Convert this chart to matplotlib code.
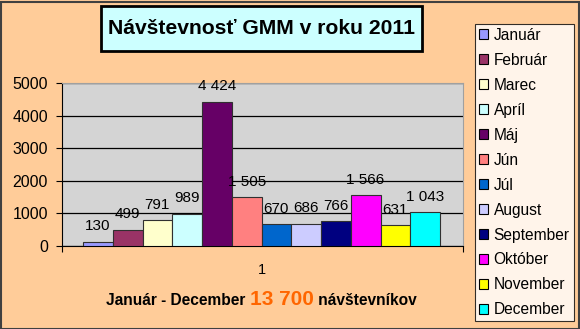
import matplotlib.pyplot as plt
from matplotlib.patches import Rectangle, Patch

plt.rcParams['font.family'] = ['Liberation Sans', 'DejaVu Sans']

# Dáta
mesiace = ['Január', 'Február', 'Marec', 'Apríl', 'Máj', 'Jún', 'Júl',
           'August', 'September', 'Október', 'November', 'December']
navstevy = [130, 499, 791, 989, 4424, 1505, 670, 686, 766, 1566, 631, 1043]
farby = ['#9999FF', '#993366', '#FFFFCC', '#CCFFFF', '#660066', '#FF8080',
         '#0066CC', '#CCCCFF', '#000080', '#FF00FF', '#FFFF00', '#00FFFF']
y_ticky = [0, 1000, 2000, 3000, 4000, 5000]
spolu = '13 700'

W, H = 580, 329
fig = plt.figure(figsize=(W / 100, H / 100), dpi=100)
fig.patch.set_facecolor('#FFCC99')

# Okraj obrázku
fig.patches.append(Rectangle((0.5 / W, 0.5 / H), 1 - 2 / W, 1 - 2 / H,
                             transform=fig.transFigure, fill=False,
                             edgecolor='#404040', linewidth=1.5))

# Plocha grafu (pixely: x 62..463, y 83..246)
ax = fig.add_axes([62 / W, (H - 246) / H, (463 - 62) / W, (246 - 83) / H])
ax.set_facecolor('#D4D4D4')

n = len(navstevy)
pozicie = [i - (n - 1) / 2 for i in range(n)]
ax.bar(pozicie, navstevy, width=1.0, color=farby, edgecolor='#303030',
       linewidth=0.8, zorder=3)

def formatuj(v):
    return f'{v:,}'.replace(',', ' ')

for x, v in zip(pozicie, navstevy):
    ax.annotate(formatuj(v), (x, v), xytext=(0, 6), textcoords='offset points',
                ha='center', va='bottom', fontsize=11, zorder=4)

ax.set_ylim(0, 5000)
lavy = -n / 2 - 21 / 29.75
pravy = n / 2 + 23 / 29.75
ax.set_xlim(lavy, pravy)
ax.set_yticks(y_ticky)
ax.yaxis.grid(True, color='black', linewidth=0.9, zorder=1)
ax.tick_params(axis='y', labelsize=11.5, length=4, width=0.8, pad=6)
ax.set_xticks([lavy, pravy])
ax.set_xticklabels(['', ''])
ax.set_xticks([0], minor=True)
ax.set_xticklabels(['1'], minor=True)
ax.tick_params(axis='x', which='major', length=4, width=0.8)
ax.tick_params(axis='x', which='minor', length=0, labelsize=10.5, pad=12)
for s in ['top', 'right']:
    ax.spines[s].set_color('#A0A0A0')
for s in ['left', 'bottom']:
    ax.spines[s].set_color('black')

# Nadpis v rámčeku
fig.patches.append(Rectangle((101 / W, (H - 51) / H), (422 - 101) / W, 45 / H,
                             transform=fig.transFigure, facecolor='#CCFFFF',
                             edgecolor='black', linewidth=2))
fig.text(261.5 / W, (H - 29) / H, 'Návštevnosť GMM v roku 2011', ha='center',
         va='center', fontsize=15.2, fontweight='bold')

# Legenda
handles = [Patch(facecolor=c, edgecolor='black', linewidth=0.8) for c in farby]
leg = fig.legend(handles, mesiace, loc='upper left',
                 bbox_to_anchor=(475 / W, (H - 24) / H), fontsize=11.2,
                 frameon=True, fancybox=False, edgecolor='black',
                 handlelength=0.6, handleheight=0.6, handletextpad=0.35,
                 labelspacing=0.64, borderpad=0.25, borderaxespad=0)
leg.get_frame().set_linewidth(0.8)
leg.get_frame().set_facecolor('white')

# Spodný text
fig.canvas.draw()
r = fig.canvas.get_renderer()
y_txt = (H - 305) / H
casti = [('Január - December ', 11.2, 'black'), (spolu, 15, '#FF6600'),
         (' návštevníkov', 11.2, 'black')]
texty = [fig.text(0, y_txt, t, fontsize=fs, fontweight='bold', color=c,
                  va='baseline') for t, fs, c in casti]
sirky = [t.get_window_extent(r).width for t in texty]
x0 = 261.5 - sum(sirky) / 2
for t, w in zip(texty, sirky):
    t.set_x(x0 / W)
    x0 += w

fig.savefig('out.png', dpi=100, facecolor=fig.get_facecolor())
